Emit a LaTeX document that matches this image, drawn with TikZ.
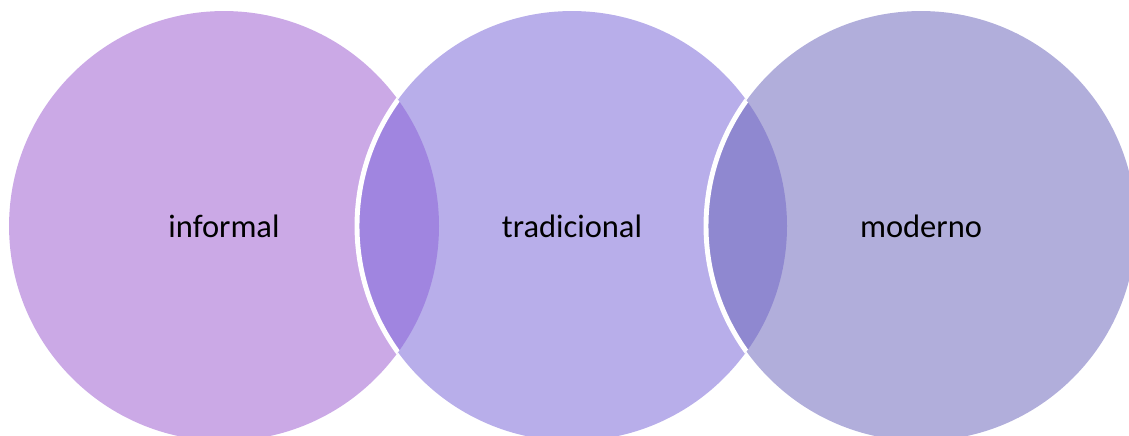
\documentclass[tikz,border=0pt]{standalone}
\usepackage{fontspec}
\setmainfont{Carlito}
\usetikzlibrary{positioning}
\definecolor{lilac}{HTML}{CBA9E6}
\definecolor{lavender}{HTML}{B8AEEA}
\definecolor{greyviolet}{HTML}{B1AEDB}
\definecolor{overlapone}{HTML}{A085E0}
\definecolor{overlaptwo}{HTML}{8F88D0}
\tikzset{
  setcircle/.style={circle,minimum size=8.6cm,inner sep=0pt,font=\fontsize{18.5}{22}\selectfont,text=black},
  rim/.style={draw=white,line width=2.8pt}
}

\begin{document}
\begin{tikzpicture}[x=0.02cm,y=0.02cm]
\useasboundingbox (0,0) rectangle (1129,436);
\clip (0,0) rectangle (1129,436);
% the three sets
\node[setcircle,fill=lilac] (inf) at (224,210) {informal};
\node[setcircle,fill=lavender] (trad) at (572,210) {tradicional};
\node[setcircle,fill=greyviolet] (mod) at (921,210) {moderno};
% overlaps
\begin{scope}
  \clip (inf.center) circle (215);
  \fill[overlapone] (trad.center) circle (215);
  \draw[rim] (trad.center) circle (215);
\end{scope}
\begin{scope}
  \clip (trad.center) circle (215);
  \fill[overlaptwo] (mod.center) circle (215);
  \draw[rim] (mod.center) circle (215);
\end{scope}
\end{tikzpicture}
\end{document}
